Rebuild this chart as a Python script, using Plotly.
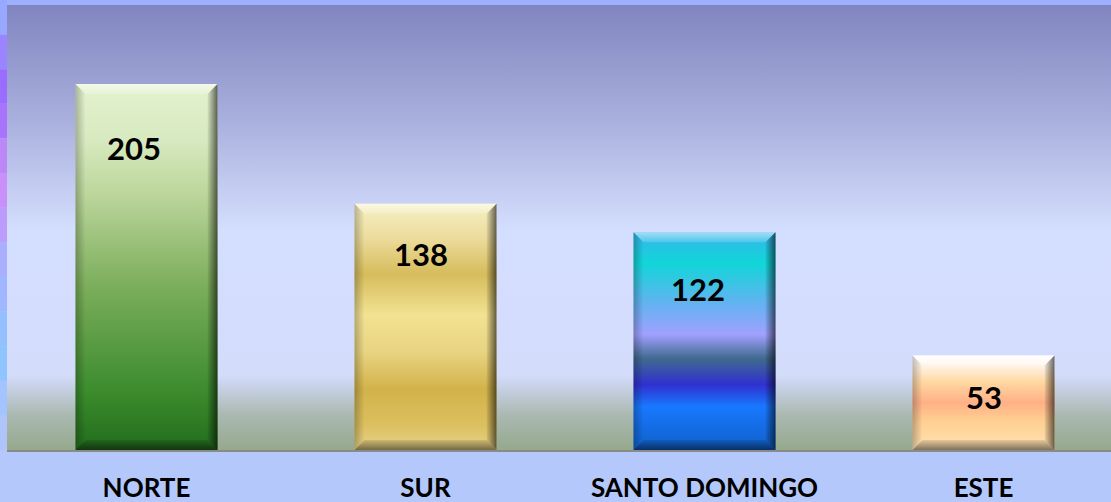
import plotly.graph_objects as go

# ---------------- data ----------------
categories = ["NORTE", "SUR", "SANTO DOMINGO", "ESTE"]
values = [205, 138, 122, 53]

# ---------------- style ----------------
W, H = 1111, 502
M_L, M_R, M_T, M_B = 7, 0, 5, 52
PLOT_W = W - M_L - M_R
PLOT_H = H - M_T - M_B
PX_PER_CAT = 279.0
PX_PER_UNIT = 1.785
X0 = -0.5
X1 = X0 + PLOT_W / PX_PER_CAT
Y1 = PLOT_H / PX_PER_UNIT
BAR_W = 142 / PX_PER_CAT
BEV_PX = 10
DX = BEV_PX / PX_PER_CAT
DY = BEV_PX / PX_PER_UNIT

bar_scales = [
    [[0, "#226c1c"], [0.15, "#3a8a2c"], [0.45, "#7cae5c"], [0.7, "#bcd69c"], [0.85, "#d8eac0"], [1, "#e4f2d0"]],
    [[0, "#e6d28a"], [0.1, "#dcc060"], [0.245, "#d2b24a"], [0.4, "#e8d482"], [0.55, "#f2e292"], [0.714, "#d6bc5c"], [0.86, "#ecdc9c"], [1, "#f6f0c4"]],
    [[0, "#1060c8"], [0.2, "#1878ff"], [0.3, "#3030d0"], [0.42, "#406a8e"], [0.53, "#a0a0ff"], [0.68, "#60b4f0"], [0.86, "#10d6d8"], [1, "#38b4ec"]],
    [[0, "#ffe2b4"], [0.3, "#ffd092"], [0.5, "#ffb086"], [0.72, "#ffd8a2"], [0.9, "#fff4ea"], [1, "#ffffff"]],
]
label_dy = [64, 50, 57, 42]      # px below bar top
label_dx = [-13, -5, -7, 0]      # px horizontal shift

bg_scale = [[0, "#95a98d"], [0.08, "#abb9b2"], [0.169, "#d4dcfc"], [0.494, "#d4defe"],
            [0.75, "#a8aedc"], [1, "#8085c0"]]

fig = go.Figure()

# plot-area background gradient
fig.add_trace(go.Scatter(
    x=[X0, X1, X1, X0, X0], y=[0, 0, Y1, Y1, 0], mode="lines", fill="toself",
    line=dict(width=0), fillgradient=dict(type="vertical", colorscale=bg_scale, start=0, stop=Y1),
    hoverinfo="skip", showlegend=False))

for i, v in enumerate(values):
    xa, xb = i - BAR_W / 2, i + BAR_W / 2
    # body
    fig.add_trace(go.Scatter(
        x=[xa, xb, xb, xa, xa], y=[0, 0, v, v, 0], mode="lines", fill="toself",
        line=dict(width=0),
        fillgradient=dict(type="vertical", colorscale=bar_scales[i], start=0, stop=v),
        hoverinfo="skip", showlegend=False))
    # top bevel (light)
    fig.add_trace(go.Scatter(
        x=[xa, xb, xb - DX, xa + DX, xa], y=[v, v, v - DY, v - DY, v], mode="lines",
        fill="toself", line=dict(width=0),
        fillgradient=dict(type="vertical", colorscale=[[0, "rgba(255,255,255,0.15)"], [1, "rgba(255,255,255,0.55)"]],
                          start=v - DY, stop=v),
        hoverinfo="skip", showlegend=False))
    # left bevel
    fig.add_trace(go.Scatter(
        x=[xa, xa, xa + DX, xa + DX, xa], y=[0, v, v - DY, DY, 0], mode="lines",
        fill="toself", line=dict(width=0),
        fillgradient=dict(type="horizontal", colorscale=[[0, "rgba(0,0,0,0.25)"], [1, "rgba(0,0,0,0.0)"]],
                          start=xa, stop=xa + DX),
        hoverinfo="skip", showlegend=False))
    # right bevel (dark)
    fig.add_trace(go.Scatter(
        x=[xb, xb, xb - DX, xb - DX, xb], y=[0, v, v - DY, DY, 0], mode="lines",
        fill="toself", line=dict(width=0),
        fillgradient=dict(type="horizontal", colorscale=[[0, "rgba(0,0,0,0.05)"], [1, "rgba(0,0,0,0.6)"]],
                          start=xb - DX, stop=xb),
        hoverinfo="skip", showlegend=False))
    # bottom bevel (dark)
    fig.add_trace(go.Scatter(
        x=[xa, xb, xb - DX, xa + DX, xa], y=[0, 0, DY, DY, 0], mode="lines",
        fill="toself", line=dict(width=0),
        fillgradient=dict(type="vertical", colorscale=[[0, "rgba(0,0,0,0.5)"], [1, "rgba(0,0,0,0.1)"]],
                          start=0, stop=DY),
        hoverinfo="skip", showlegend=False))
    fig.add_annotation(x=i, y=v, text=f"<b>{v}</b>", showarrow=False,
                       xshift=label_dx[i], yshift=-label_dy[i],
                       font=dict(family="Lato", size=31, color="#000000"))

# paper decorations: top strip and left gradient strip
shapes = [dict(type="rect", xref="paper", yref="paper", x0=-M_L / PLOT_W, x1=1.01,
               y0=1, y1=1 + M_T / PLOT_H, fillcolor="#9cb0ff", line=dict(width=0), layer="below")]
strip_cols = ["#98a8ff", "#9a84ff", "#9a6cff", "#a874fc", "#bc88f8", "#c890f8", "#bc9cfa",
              "#aaaefe", "#a0b6ff", "#94c0ff", "#90c4ff", "#a4c4ff", "#b0c4fc"]
n = len(strip_cols)
top_px, bot_px = 0, 450
for k, c in enumerate(strip_cols):
    p0 = top_px + (bot_px - top_px) * k / n
    p1 = top_px + (bot_px - top_px) * (k + 1) / n
    shapes.append(dict(type="rect", xref="paper", yref="paper", x0=-M_L / PLOT_W, x1=0,
                       y0=1 - (p1 - M_T) / PLOT_H, y1=1 - (p0 - M_T) / PLOT_H,
                       fillcolor=c, line=dict(width=0), layer="below"))

fig.update_layout(
    width=W, height=H, margin=dict(l=M_L, r=M_R, t=M_T, b=M_B, autoexpand=False),
    paper_bgcolor="#b4c8fc", plot_bgcolor="rgba(0,0,0,0)",
    shapes=shapes, showlegend=False,
    xaxis=dict(range=[X0, X1], tickmode="array", tickvals=list(range(len(categories))),
               ticktext=[f"<b>{c}</b>" for c in categories], showgrid=False, zeroline=False,
               showline=True, linecolor="#8a8a8a", linewidth=2, ticks="", ticklabelstandoff=14,
               automargin=False,
               tickfont=dict(family="Lato", size=26, color="#000000"), fixedrange=True),
    yaxis=dict(range=[0, Y1], visible=False, showgrid=False, zeroline=False, fixedrange=True,
               automargin=False),
)

fig.write_html("out.html", config={"displayModeBar": False},
               post_script="document.body.style.margin='0';document.body.style.overflow='hidden';")
